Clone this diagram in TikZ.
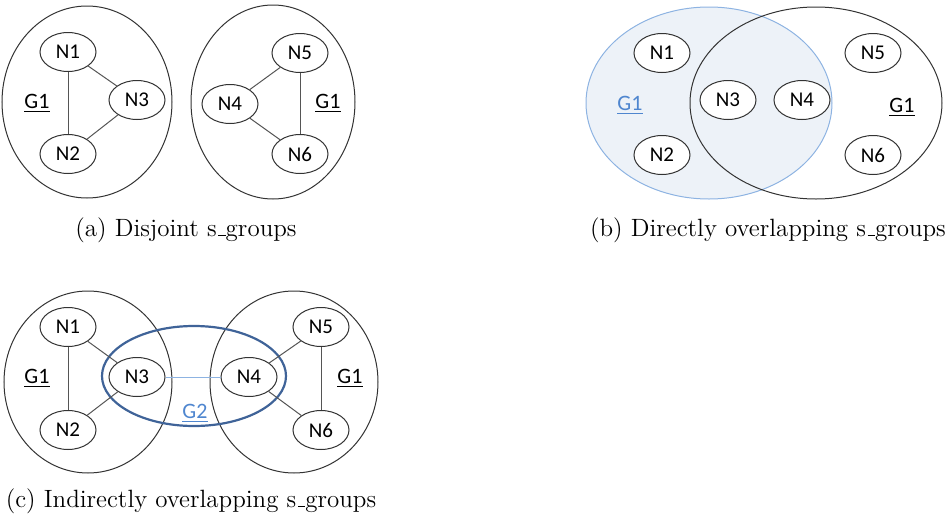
\documentclass[tikz,border=0pt]{standalone}
\usepackage{fontspec}
\usepackage{xcolor}
\usepackage{tikz}
\usetikzlibrary{positioning, shapes.geometric}
\newfontfamily\calibri{Carlito}
\newcommand{\usc}{\leavevmode\kern.06em\vbox{\hrule width.3em}}
\definecolor{G_Blue}{HTML}{8DB3E2}
\definecolor{G_BlueFill}{HTML}{EDF2F8}
\definecolor{G_BlueText}{HTML}{4F86CF}
\definecolor{G_Dark}{HTML}{3F6398}
\definecolor{G_Edge}{HTML}{555555}
\definecolor{G_Line}{HTML}{333333}

\begin{document}
\begin{tikzpicture}[
  x=0.5pt, y=-0.5pt,
  every node/.style={font=\calibri\fontsize{10.5}{10.5}\selectfont},
  nd/.style={draw=G_Line, ellipse, fill=white, line width=0.5pt, inner sep=0pt, minimum width=28pt, minimum height=19.5pt},
  grp/.style={draw=G_Line, ellipse, line width=0.5pt, inner sep=0pt},
  lbl/.style={font=\calibri\fontsize{11}{11}\selectfont},
  link/.style={draw=G_Edge, line width=0.5pt},
  captxt/.style={font=\rmfamily\fontsize{12.5}{15}\selectfont},
]
  \useasboundingbox (0,0) rectangle (950,525);

  % (a) Disjoint
  \node[grp, minimum width=85pt, minimum height=96pt] (ga1) at (87,102) {};
  \node[grp, minimum width=82pt, minimum height=97pt] (ga2) at (273,102) {};
  \node[nd] (a1) at (68,52) {N1};
  \node[nd] (a2) at (68,154) {N2};
  \node[nd] (a3) at (137,100) {N3};
  \node[nd] (a4) at (230,104) {N4};
  \node[nd] (a5) at (300,53) {N5};
  \node[nd] (a6) at (300,154) {N6};
  \node[lbl] (ga1l) at (37,103) {\underline{G1}};
  \node[lbl] (ga2l) at (328,103) {\underline{G1}};
  \draw[link] (a1) -- (a2);
  \draw[link] (a1) -- (a3);
  \draw[link] (a2) -- (a3);
  \draw[link] (a5) -- (a6);
  \draw[link] (a4) -- (a5);
  \draw[link] (a4) -- (a6);
  \node[captxt] (capa) at (186,230) {(a) Disjoint s\usc groups};

  % (b) Directly overlapping
  \node[grp, draw=G_Blue, fill=G_BlueFill, minimum width=123pt, minimum height=96pt] (gb1) at (709,103) {};
  \node[grp, minimum width=126pt, minimum height=96pt] (gb2) at (816,103) {};
  \node[nd] (b1) at (662,53) {N1};
  \node[nd] (b2) at (662,155) {N2};
  \node[nd] (b3) at (728,100) {N3};
  \node[nd] (b4) at (802,100) {N4};
  \node[nd] (b5) at (873,53) {N5};
  \node[nd] (b6) at (873,155) {N6};
  \node[lbl, G_BlueText] (gb1l) at (630,105) {\underline{G1}};
  \node[lbl] (gb2l) at (902,107) {\underline{G1}};
  \node[captxt] (capb) at (768,230) {(b) Directly overlapping s\usc groups};

  % (c) Indirectly overlapping
  \node[grp, minimum width=84pt, minimum height=91pt] (gc1) at (88,382) {};
  \node[grp, minimum width=84pt, minimum height=91pt] (gc2) at (294,382) {};
  \node[grp, draw=G_Dark, line width=1.1pt, minimum width=92pt, minimum height=50pt] (gc3) at (194,376) {};
  \node[nd] (c1) at (68,327) {N1};
  \node[nd] (c2) at (68,430) {N2};
  \node[nd] (c3) at (137,377) {N3};
  \node[nd] (c4) at (249,377) {N4};
  \node[nd] (c5) at (321,327) {N5};
  \node[nd] (c6) at (321,430) {N6};
  \node[lbl] (gc1l) at (37,378) {\underline{G1}};
  \node[lbl] (gc2l) at (350,378) {\underline{G1}};
  \node[lbl, G_BlueText] (gc3l) at (195,413) {\underline{G2}};
  \draw[link] (c1) -- (c2);
  \draw[link] (c1) -- (c3);
  \draw[link] (c2) -- (c3);
  \draw[link] (c5) -- (c6);
  \draw[link] (c4) -- (c5);
  \draw[link] (c4) -- (c6);
  \draw[draw=G_Blue, line width=0.5pt] (c3) -- (c4);
  \node[captxt] (capc) at (191,501) {(c) Indirectly overlapping s\usc groups};
\end{tikzpicture}
\end{document}
